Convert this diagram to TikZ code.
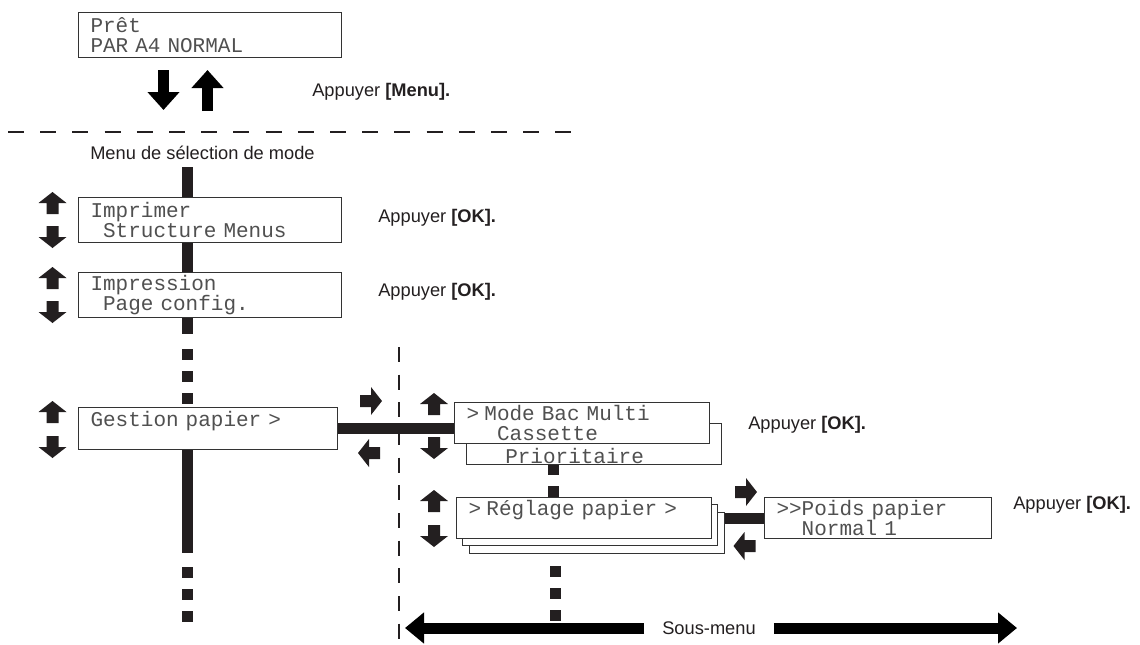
\documentclass[tikz,border=0pt]{standalone}
\usepackage{fontspec}
\setmainfont{Liberation Sans}
\setmonofont{Liberation Mono}
\usepackage{xcolor}
\usepackage{tikz}
\usetikzlibrary{positioning,arrows.meta,calc}
\definecolor{ink}{HTML}{231F20}
\definecolor{lcdtext}{HTML}{505050}
\definecolor{lcdedge}{HTML}{333333}
\newcommand\lsp{\phantom{x}}
\newcommand\lcdfont{\fontsize{15.75pt}{15pt}\selectfont\ttfamily\spaceskip=0.6em\xspaceskip=0.6em\relax}
\tikzset{
  blk/.pic={\fill[ink] (-6,11) -- (-6,0) -- (-14,0) -- (0,-11) -- (14,0) -- (6,0) -- (6,11) -- cycle;}
}

\begin{document}
\begin{tikzpicture}[
  x=0.75pt,y=-0.75pt,
  font=\fontsize{13.7pt}{16pt}\selectfont,text=ink,
  lcd/.style={draw=lcdedge,fill=white,line width=0.8pt,align=left,inner xsep=9pt,inner ysep=1pt,anchor=north west,font=\lcdfont,text=lcdtext},
  lcdback/.style={draw=lcdedge,fill=white,line width=0.8pt,anchor=north west,inner sep=0pt,minimum width=191.25pt,minimum height=30.75pt},
  hint/.style={anchor=west,inner sep=0pt},
  bar/.style={line width=8.25pt,ink},
  dots/.style={bar,dash pattern=on 8.25pt off 8.25pt},
  bigarr/.style={-{Triangle[length=13.5pt,width=23.25pt]},line width=8.25pt,black},
  subarr/.style={-{Triangle[length=14.25pt,width=22.5pt]},line width=8.25pt,black},
  hrule/.style={line width=1.5pt,ink,dash pattern=on 12pt off 12.15pt},
  vrule/.style={line width=1.5pt,ink,dash pattern=on 11.25pt off 9.5pt}
]
\useasboundingbox (0,0) rectangle (1140,644);

% ready display and menu key
\node[lcd,text width=179.25pt,minimum height=33.75pt] (pret) at (78,12) {Prêt\\PAR A4 NORMAL};
\coordinate (dn1) at (163.5,70); \coordinate (dn2) at (163.5,110);
\coordinate (up1) at (207.5,111); \coordinate (up2) at (207.5,70);
\draw[bigarr] (dn1) -- (dn2);
\draw[bigarr] (up1) -- (up2);
\node[hint] (kmenu) at (312,92) {Appuyer \textbf{[Menu].}};
\draw[hrule] (8,132) -- (572,132);
\node[hint] (modesel) at (90,153) {Menu de sélection de mode};

% main menu column
\coordinate (barx) at (187.5,0);
\node[lcd,text width=179.25pt,minimum height=33.75pt] (imp1) at (78,197) {Imprimer\\\lsp Structure Menus};
\node[lcd,text width=179.25pt,minimum height=33.75pt] (imp2) at (78,272) {Impression\\\lsp Page config.};
\node[lcd,text width=176.25pt,minimum height=31.5pt] (gest) at (78,407) {Gestion papier >\\\lsp};
\node[hint] (ok1) at (378,218) {Appuyer \textbf{[OK].}};
\node[hint] (ok2) at (378,292) {Appuyer \textbf{[OK].}};
\pic at (52.5,203) {blk}; \pic[rotate=180] at (52.5,237) {blk};
\pic at (52.5,278) {blk}; \pic[rotate=180] at (52.5,312) {blk};
\pic at (52.5,412) {blk}; \pic[rotate=180] at (52.5,447) {blk};
\coordinate (c1) at (187.5,167);
\coordinate (c2) at (187.5,334);
\coordinate (c3) at (187.5,349);
\coordinate (c4) at (187.5,553);
\coordinate (c5) at (187.5,567);
\coordinate (c6) at (187.5,623);
\draw[bar] (c1) -- (imp1.north -| barx);
\draw[bar] (imp1.south -| barx) -- (imp2.north -| barx);
\draw[bar] (imp2.south -| barx) -- (c2);
\draw[dots] (c3) -- (gest.north -| barx);
\draw[bar] (gest.south -| barx) -- (c4);
\draw[dots] (c5) -- (c6);

% sub menu
\draw[vrule] (399,347) -- (399,644);
\node[lcdback] (modeb) at (466,423) {};
\node[lcd,text width=173.25pt,minimum height=30.75pt] (mode) at (454,402) {>\hspace{4pt}Mode Bac Multi\\\lsp\hspace{4pt}\lsp Cassette};
\node[anchor=base west,inner sep=0pt,font=\lcdfont,text=lcdtext] (prio) at ($(modeb.south west)+(39,-2)$) {Prioritaire};
\node[hint] (ok3) at (748,425) {Appuyer \textbf{[OK].}};
\draw[bar] (gest.east) -- (gest.east -| mode.west);
\pic[rotate=-90] at (371,401) {blk}; \pic[rotate=90] at (369,453) {blk};
\pic at (434,404) {blk}; \pic[rotate=180] at (434,448) {blk};

\node[lcdback] (regc) at (469,512) {};
\node[lcdback] (regb) at (462,504) {};
\node[lcd,text width=173.25pt,minimum height=30.75pt] (reg) at (456,497) {>\hspace{4pt}Réglage papier >\\\lsp};
\pic at (434,501) {blk}; \pic[rotate=180] at (434,536) {blk};
\coordinate (mx) at (553.5,0);
\draw[bar,dash pattern=on 7.5pt off 8.25pt on 9pt off 0pt] (modeb.south -| mx) -- (reg.north -| mx);

\node[lcd,text width=152.25pt,minimum height=30.75pt] (poids) at (764,497) {>>Poids papier\\\lsp\lsp Normal 1};
\node[hint] (ok4) at (1013,505) {Appuyer \textbf{[OK].}};
\draw[bar] (regc.east |- poids.west) -- (poids.west);
\pic[rotate=-90] at (746,492) {blk}; \pic[rotate=90] at (744.5,546) {blk};
\coordinate (r1) at (555.5,566); \coordinate (r2) at (555.5,622);
\draw[dots] (r1) -- (r2);

% sub menu span
\node[inner xsep=13.5pt,inner ysep=0pt] (sous) at (709,628) {Sous-menu};
\coordinate (ltip) at (405,628); \coordinate (rtip) at (1017,628);
\draw[subarr] (sous.west) -- (ltip);
\draw[subarr] (sous.east) -- (rtip);
\end{tikzpicture}
\end{document}
